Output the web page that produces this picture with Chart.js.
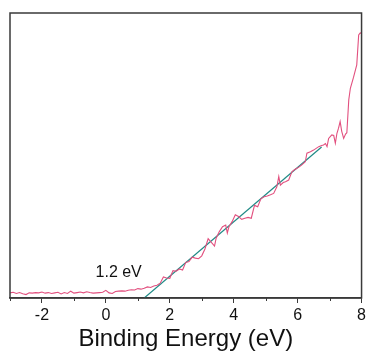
<!DOCTYPE html>
<html>
<head>
<meta charset="utf-8">
<script src="https://cdn.jsdelivr.net/npm/chart.js@4/dist/chart.umd.min.js"></script>
<style>
  html, body { margin: 0; padding: 0; background: #fff; }
  canvas { display: block; }
</style>
</head>
<body>
<canvas id="canvas1" width="369" height="358"></canvas>
<script>
// spectrum (binding energy in eV, intensity in arbitrary units)
const energy = [
    -3.0, -2.9, -2.8, -2.7, -2.6, -2.5, -2.4, -2.3, -2.2, -2.1,
    -2.0, -1.9, -1.8, -1.7, -1.6, -1.5, -1.4, -1.3, -1.2, -1.1,
    -1.0, -0.9, -0.8, -0.7, -0.6, -0.5, -0.4, -0.3, -0.2, -0.1,
    0.0, 0.1, 0.2, 0.3, 0.4, 0.5, 0.6, 0.7, 0.8, 0.9,
    1.0, 1.1, 1.2, 1.3, 1.4, 1.5, 1.6, 1.7, 1.8, 1.9,
    2.0, 2.1, 2.2, 2.3, 2.4, 2.5, 2.6, 2.7, 2.8, 2.9,
    3.0, 3.1, 3.2, 3.3, 3.4, 3.45, 3.55, 3.65, 3.75, 3.8,
    3.85, 3.95, 4.05, 4.15, 4.25, 4.35, 4.45, 4.55, 4.65, 4.75,
    4.85, 4.95, 5.05, 5.15, 5.25, 5.35, 5.41, 5.46, 5.55, 5.62,
    5.72, 5.82, 5.9, 5.98, 6.05, 6.13, 6.24, 6.29, 6.4, 6.5,
    6.58, 6.66, 6.75, 6.81, 6.87, 6.92, 6.97, 7.02, 7.07, 7.13,
    7.18, 7.23, 7.28, 7.33, 7.38, 7.44, 7.5, 7.54, 7.6, 7.65,
    7.75, 7.85, 7.91, 7.96, 8.0
];
const intensity = [
    1.8, 2.0, 1.6, 1.9, 1.5, 1.2, 1.8, 1.7, 1.9, 1.8,
    2.1, 1.7, 1.9, 1.6, 1.8, 2.0, 1.4, 1.9, 1.6, 2.4,
    1.7, 1.9, 2.1, 1.8, 2.2, 1.9, 1.7, 1.8, 1.9, 2.0,
    2.7, 1.8, 1.6, 2.3, 2.4, 2.5, 2.4, 2.7, 2.9, 2.8,
    3.3, 3.1, 3.4, 3.9, 3.7, 4.2, 4.5, 5.2, 7.4, 7.0,
    6.9, 9.6, 9.4, 10.2, 9.8, 12.5, 12.8, 14.3, 14.0, 13.8,
    14.8, 17.2, 20.8, 19.5, 18.2, 21.0, 23.3, 25.0, 25.6, 22.8,
    25.0, 26.8, 29.2, 28.6, 27.6, 28.0, 28.3, 28.0, 32.5, 32.0,
    34.8, 35.5, 35.8, 36.2, 36.7, 39.0, 42.6, 39.6, 40.5, 40.8,
    41.4, 44.3, 45.0, 45.5, 46.0, 46.7, 47.8, 50.8, 51.3, 51.9,
    52.5, 53.1, 53.5, 53.7, 54.2, 53.1, 56.0, 56.6, 57.2, 57.0,
    54.3, 57.8, 59.6, 61.9, 58.5, 56.0, 57.5, 58.0, 69.5, 73.6,
    77.5, 81.8, 92.3, 93.0, 92.9
];

// linear fit of the leading edge
const fitEnergy = [1.2, 6.75];
const fitIntensity = [0, 53];

const majorTicks = [-2, 0, 2, 4, 6, 8];
const minorTicks = [-3, -1, 1, 3, 5, 7];

const edgeLabel = "1.2 eV";
const edgeLabelAt = [0.4, 8.9];

function toPoints(xs, ys) {
    return xs.map((x, i) => ({ x: x, y: ys[i] }));
}

const fontFamily = "Arial, 'Liberation Sans', sans-serif";

// box round the plot, minor ticks and the edge label
const boxAndLabel = {
    id: 'boxAndLabel',
    afterDraw(chart) {
        const ctx = chart.ctx;
        const a = chart.chartArea;
        const xs = chart.scales.x;
        ctx.save();
        ctx.strokeStyle = '#3a3a3a';
        ctx.lineWidth = 1.5;
        ctx.strokeRect(a.left, a.top, a.right - a.left, a.bottom - a.top);
        ctx.lineWidth = 1;
        ctx.beginPath();
        minorTicks.forEach(v => {
            const px = Math.round(xs.getPixelForValue(v)) + 0.5;
            ctx.moveTo(px, a.bottom);
            ctx.lineTo(px, a.bottom + 3);
        });
        ctx.stroke();
        ctx.fillStyle = '#111';
        ctx.font = "16px " + fontFamily;
        ctx.textAlign = 'center';
        ctx.textBaseline = 'middle';
        ctx.fillText(edgeLabel,
            xs.getPixelForValue(edgeLabelAt[0]),
            chart.scales.y.getPixelForValue(edgeLabelAt[1]));
        ctx.restore();
    }
};

const data = {
    datasets: [{
        label: 'Spectrum',
        data: toPoints(energy, intensity),
        borderColor: '#e2507f',
        borderWidth: 1.1,
        pointRadius: 0,
        tension: 0
    }, {
        label: 'Fit',
        data: toPoints(fitEnergy, fitIntensity),
        borderColor: '#1f8a86',
        borderWidth: 1.2,
        pointRadius: 0
    }]
};

const config = {
    type: 'line',
    data: data,
    options: {
        responsive: false,
        animation: false,
        layout: { padding: { left: 10, right: 6, top: 13, bottom: 0 } },
        plugins: {
            legend: { display: false },
            tooltip: { enabled: false }
        },
        scales: {
            x: {
                type: 'linear',
                min: -3,
                max: 8,
                afterBuildTicks: function (scale) {
                    scale.ticks = majorTicks.map(v => ({ value: v }));
                },
                afterFit: function (scale) { scale.height = 60; },
                grid: {
                    drawOnChartArea: false,
                    tickLength: 5,
                    color: '#3a3a3a',
                    lineWidth: 1
                },
                border: { color: '#3a3a3a', width: 1.5 },
                ticks: {
                    padding: 3,
                    maxRotation: 0,
                    autoSkip: false,
                    color: '#111',
                    font: { family: fontFamily, size: 16 },
                    callback: function (v) { return String(v); }
                },
                title: {
                    display: true,
                    text: 'Binding Energy (eV)',
                    color: '#111',
                    padding: { top: 0, bottom: 4 },
                    font: { family: fontFamily, size: 24 }
                }
            },
            y: {
                display: false,
                min: 0,
                max: 100
            }
        }
    },
    plugins: [boxAndLabel]
};

const chart = new Chart(document.getElementById('canvas1'), config);
</script>
</body>
</html>
